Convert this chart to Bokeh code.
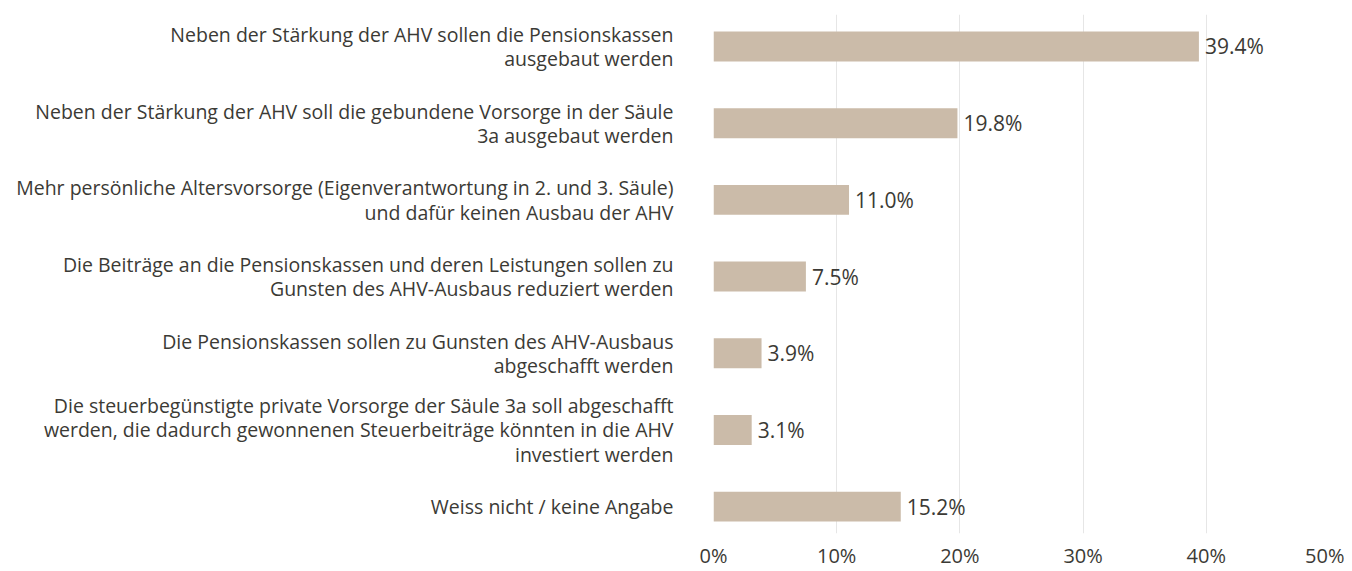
from bokeh.plotting import figure
from bokeh.models import ColumnDataSource, Range1d, FixedTicker, LabelSet
from bokeh.core.properties import value
from bokeh.embed import file_html
from bokeh.resources import INLINE

categories = [
    "Neben der Stärkung der AHV sollen die Pensionskassen\nausgebaut werden",
    "Neben der Stärkung der AHV soll die gebundene Vorsorge in der Säule\n3a ausgebaut werden",
    "Mehr persönliche Altersvorsorge (Eigenverantwortung in 2. und 3. Säule)\nund dafür keinen Ausbau der AHV",
    "Die Beiträge an die Pensionskassen und deren Leistungen sollen zu\nGunsten des AHV-Ausbaus reduziert werden",
    "Die Pensionskassen sollen zu Gunsten des AHV-Ausbaus\nabgeschafft werden",
    "Die steuerbegünstigte private Vorsorge der Säule 3a soll abgeschafft\nwerden, die dadurch gewonnenen Steuerbeiträge könnten in die AHV\ninvestiert werden",
    "Weiss nicht / keine Angabe",
]
values = [39.4, 19.8, 11.0, 7.5, 3.9, 3.1, 15.2]
tick_values = [0, 10, 20, 30, 40, 50]

FONT = "Open Sans"
TXT = "#3b3a35"
BAR = "#cbbba9"

pos = list(range(len(categories)))
src = ColumnDataSource(dict(
    y=pos, v=values, lbl=[f"{v:.1f}%" for v in values],
))

p = figure(width=1344, height=571, output_backend="svg", toolbar_location=None,
           x_range=Range1d(0, 50), y_range=Range1d(6.35, -0.417),
           min_border_left=713, min_border_right=15, min_border_top=14, min_border_bottom=0)
p.outline_line_color = None
p.background_fill_color = "white"

p.hbar(y="y", left=0, right="v", height=0.39, source=src, color=BAR, line_color=None)

p.add_layout(LabelSet(x="v", y="y", text="lbl", source=src, x_offset=6,
                      text_align="left", text_baseline="middle",
                      text_font=value(FONT), text_font_size="21px", text_color=TXT))

p.yaxis.ticker = FixedTicker(ticks=pos)
p.yaxis.major_label_overrides = {i: c for i, c in zip(pos, categories)}
p.yaxis.axis_line_color = None
p.yaxis.major_tick_line_color = None
p.yaxis.minor_tick_line_color = None
p.yaxis.major_label_standoff = 34
p.yaxis.major_label_text_font = FONT
p.yaxis.major_label_text_font_size = "19.5px"
p.yaxis.major_label_text_color = TXT
p.yaxis.major_label_text_line_height = 0.9

p.ygrid.grid_line_color = None
p.xgrid.grid_line_color = "#e6e6e6"
p.xgrid.ticker = FixedTicker(ticks=tick_values)
p.xaxis.ticker = FixedTicker(ticks=tick_values)
p.xaxis.major_label_overrides = {t: f"{t}%" for t in tick_values}
p.xaxis.axis_line_color = None
p.xaxis.major_tick_line_color = None
p.xaxis.minor_tick_line_color = None
p.xaxis.major_tick_out = 0
p.xaxis.major_tick_in = 0
p.xaxis.minor_tick_out = 0
p.xaxis.minor_tick_in = 0
p.xaxis.major_label_standoff = 8
p.xaxis.major_label_text_font = FONT
p.xaxis.major_label_text_font_size = "20px"
p.xaxis.major_label_text_color = TXT
p.xaxis.major_label_text_line_height = 0.9

open("out.html", "w").write(file_html(p, INLINE))
